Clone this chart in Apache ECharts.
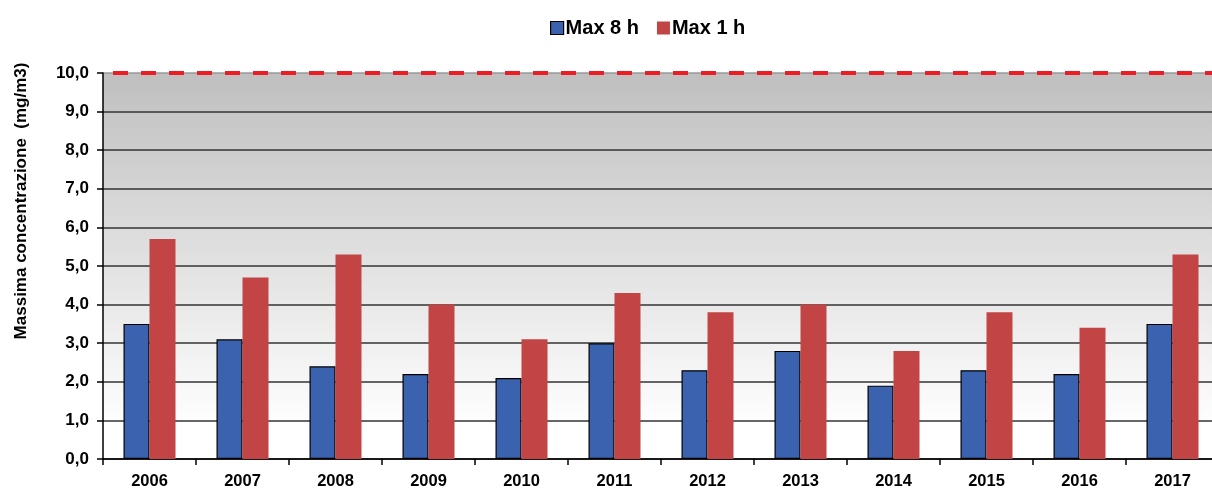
<!DOCTYPE html>
<html>
<head>
<meta charset="utf-8">
<style>
  html, body { margin: 0; padding: 0; background: #fff; overflow: hidden; }
  #chart { width: 1212px; height: 488px; }
</style>
<script src="https://cdn.jsdelivr.net/npm/echarts@6/dist/echarts.min.js"></script>
</head>
<body>
<div id="chart"></div>
<script>
// Annual maximum CO concentrations (mg/m3)
const years = ['2006', '2007', '2008', '2009', '2010', '2011', '2012', '2013', '2014', '2015', '2016', '2017'];
const max8h = [3.5, 3.1, 2.4, 2.2, 2.1, 3.0, 2.3, 2.8, 1.9, 2.3, 2.2, 3.5];
const max1h = [5.7, 4.7, 5.3, 4.0, 3.1, 4.3, 3.8, 4.0, 2.8, 3.8, 3.4, 5.3];
const limitValue = 10;
const yTicks = [0, 1, 2, 3, 4, 5, 6, 7, 8, 9, 10];

const font = '"Liberation Sans", Arial, sans-serif';
const chart = echarts.init(document.getElementById('chart'), null, { renderer: 'canvas' });

// grid lines: dark for each step, lighter at the top where the limit line sits
const splitColors = yTicks.map(v => v === limitValue ? '#999999' : '#333333');

chart.setOption({
  animation: false,
  legend: {
    top: 13,
    left: 545,
    icon: 'rect',
    itemWidth: 13,
    itemHeight: 13,
    itemGap: 18,
    textStyle: { fontFamily: font, fontWeight: 'bold', fontSize: 20, color: '#000', padding: [0, 0, 0, -3] },
    data: [
      { name: 'Max 8 h', itemStyle: { color: '#3b62ae', borderColor: '#000', borderWidth: 1.2 } },
      { name: 'Max 1 h', itemStyle: { color: '#c24444', borderWidth: 0 } }
    ]
  },
  grid: {
    left: 103, width: 1116, top: 73, height: 386,
    containLabel: false,
    outerBoundsMode: 'none',
    show: true,
    borderWidth: 0,
    backgroundColor: new echarts.graphic.LinearGradient(0, 0, 0, 1, [
      { offset: 0, color: '#bfbfbf' },
      { offset: 0.5, color: '#e2e2e2' },
      { offset: 0.92, color: '#ffffff' },
      { offset: 1, color: '#ffffff' }
    ])
  },
  xAxis: {
    type: 'category',
    data: years,
    axisLine: { lineStyle: { color: '#000', width: 1.5 } },
    axisTick: { show: true, length: 6, lineStyle: { color: '#000', width: 1.5 } },
    axisLabel: { fontFamily: font, fontWeight: 'bold', fontSize: 16.5, color: '#000', margin: 14 }
  },
  yAxis: {
    type: 'value',
    min: 0, max: 10, interval: 1,
    axisLine: { show: true, lineStyle: { color: '#000', width: 1.5 } },
    axisTick: { show: true, length: 6, lineStyle: { color: '#000', width: 1.5 } },
    axisLabel: {
      fontFamily: font, fontWeight: 'bold', fontSize: 17, color: '#000', margin: 14,
      formatter: v => v.toFixed(1).replace('.', ',')
    },
    splitLine: { show: true, lineStyle: { color: splitColors, width: 1.5 } }
  },
  graphic: [{
    type: 'text',
    x: 21, y: 201,
    rotation: Math.PI / 2,
    style: {
      text: 'Massima concentrazione  (mg/m3)',
      fontFamily: font, fontWeight: 'bold', fontSize: 17, fill: '#000',
      align: 'center', verticalAlign: 'middle'
    }
  }],
  series: [
    {
      name: 'Max 8 h',
      type: 'bar',
      data: max8h,
      barWidth: 26,
      barGap: '0%',
      itemStyle: { color: '#3b62ae', borderColor: '#000', borderWidth: 1.2 },
      markLine: {
        silent: true,
        symbol: 'none',
        label: { show: false },
        lineStyle: { color: '#ee1c25', type: [15, 13], dashOffset: -10, width: 4 },
        data: [{ yAxis: limitValue }]
      }
    },
    {
      name: 'Max 1 h',
      type: 'bar',
      data: max1h,
      barWidth: 26,
      itemStyle: { color: '#c24444' }
    }
  ]
});
</script>
</body>
</html>
